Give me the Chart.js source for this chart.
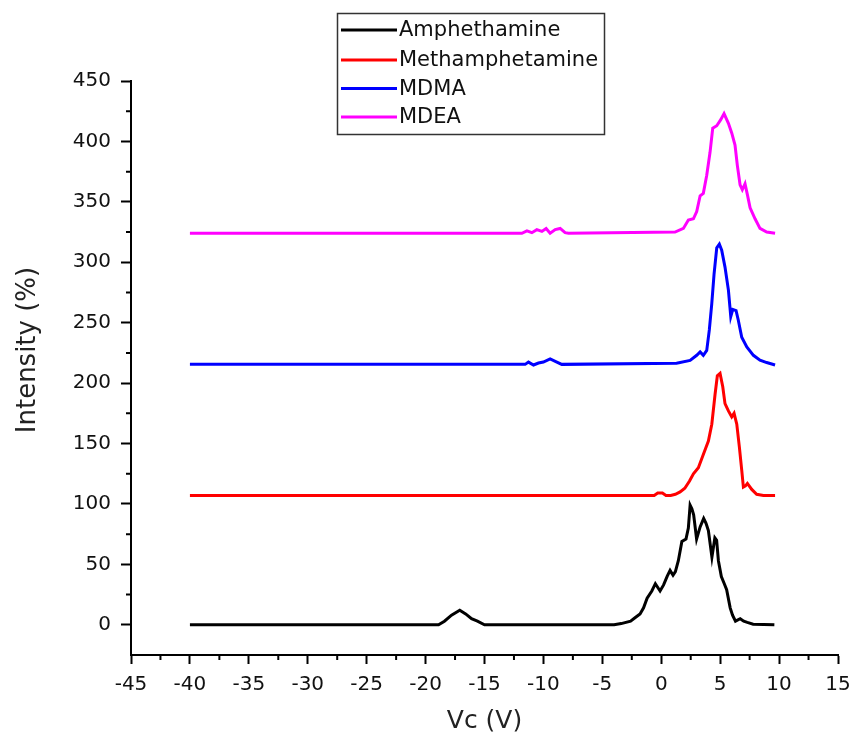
<!DOCTYPE html>
<html>
<head>
<meta charset="utf-8">
<script src="https://cdn.jsdelivr.net/npm/chart.js@4/dist/chart.umd.min.js"></script>
<style>
  html, body { margin: 0; padding: 0; background: #fff; }
  canvas { display: block; }
</style>
</head>
<body>
<canvas id="chart" width="854" height="744"></canvas>
<script>
// Compensation voltage sweep (V) and relative intensity (%) per compound,
// each trace offset vertically so the spectra stack.
const seriesLabels = ['Amphethamine', 'Methamphetamine', 'MDMA', 'MDEA'];
const seriesColors = ['#000000', '#ff0000', '#0000ff', '#ff00ff'];

const amphVc = [-40, -18.9, -18.4, -17.8, -17.1, -16.6, -16.1, -15.6, -15.0, -4.0, -3.4, -2.6, -2.2, -1.8, -1.5, -1.2, -0.8, -0.5, -0.1, 0.2, 0.5, 0.75, 1.0, 1.2, 1.45, 1.75, 2.1, 2.3, 2.45, 2.6, 2.75, 3.0, 3.3, 3.6, 3.8, 4.0, 4.3, 4.55, 4.7, 4.85, 5.1, 5.35, 5.55, 5.85, 6.05, 6.3, 6.7, 7.0, 7.3, 7.8, 9.6];
const amphIntensity = [0, 0, 3, 8, 12, 9, 5, 3, 0, 0, 1, 3, 6, 9, 14, 22, 28, 34, 28, 33, 40, 45, 41, 44, 53, 69, 71, 80, 99, 96, 91, 71, 81, 88, 84, 78, 56, 72, 70, 53, 40, 34, 29, 14, 8, 3, 5, 3, 2, 0.5, 0];

const methVc = [-40, -0.6, -0.3, 0.1, 0.4, 0.8, 1.2, 1.6, 2.0, 2.4, 2.73, 3.15, 3.57, 4.0, 4.29, 4.57, 4.76, 4.99, 5.22, 5.41, 5.7, 5.98, 6.18, 6.41, 6.63, 6.83, 6.97, 7.15, 7.31, 7.68, 8.1, 8.67, 9.66];
const methIntensity = [107, 107, 109, 109, 107, 107, 108, 110, 113, 119, 125, 130, 141, 152, 166, 191, 206, 208, 197, 183, 177, 172, 175, 166, 147, 128, 114, 115, 117, 112, 108, 107, 107];

const mdmaVc = [-40, -11.55, -11.27, -10.84, -10.42, -10.0, -9.43, -8.86, -8.44, 1.3, 2.45, 3.01, 3.3, 3.57, 3.86, 4.08, 4.29, 4.48, 4.71, 4.93, 5.13, 5.41, 5.7, 5.9, 6.07, 6.35, 6.54, 6.83, 7.26, 7.82, 8.38, 8.95, 9.66];
const mdmaIntensity = [215.5, 215.5, 217.4, 215, 216.6, 217.4, 220, 217.4, 215.5, 216.5, 218.8, 223, 225.8, 223, 227, 244, 266, 290, 312, 315, 310, 296, 277, 255, 261, 260, 252, 238, 230, 223, 219, 217, 215];

const mdeaVc = [-40, -11.83, -11.4, -10.98, -10.56, -10.13, -9.77, -9.43, -9.0, -8.58, -8.16, -7.87, 1.17, 1.88, 2.3, 2.73, 3.01, 3.3, 3.57, 3.86, 4.14, 4.37, 4.71, 5.05, 5.33, 5.7, 5.98, 6.26, 6.46, 6.69, 6.88, 7.11, 7.31, 7.54, 7.96, 8.38, 8.95, 9.66];
const mdeaIntensity = [324, 324, 326, 324.5, 327, 325.5, 328, 324, 327, 328, 324.5, 324, 325, 328, 335, 336, 342, 355, 357, 372, 391, 411, 413, 418, 423, 415, 407, 397, 380, 364, 360, 365, 356, 345, 336, 328, 325, 324];

const xTickValues = [-45, -40, -35, -30, -25, -20, -15, -10, -5, 0, 5, 10, 15];
const yTickValues = [0, 50, 100, 150, 200, 250, 300, 350, 400, 450];
const xMinorValues = xTickValues.slice(0, -1).map(v => v + 2.5);
const yMinorValues = [25, 75, 125, 175, 225, 275, 325, 375, 425];

const xTitle = 'Vc (V)';
const yTitle = 'Intensity (%)';

const seriesX = [amphVc, methVc, mdmaVc, mdeaVc];
const seriesY = [amphIntensity, methIntensity, mdmaIntensity, mdeaIntensity];

const FONT = '"DejaVu Sans", "Liberation Sans", Arial, sans-serif';

const datasets = seriesLabels.map((label, i) => ({
  label,
  data: seriesX[i].map((x, k) => ({ x, y: seriesY[i][k] })),
  borderColor: seriesColors[i],
  backgroundColor: seriesColors[i],
  borderWidth: 3,
  pointRadius: 0,
  tension: 0,
  fill: false
}));

// Short minor tick marks between the labelled ones, plus the vertical axis title.
const axisExtras = {
  id: 'axisExtras',
  afterDraw(chart) {
    const { ctx, chartArea, scales } = chart;
    ctx.save();
    ctx.strokeStyle = '#000';
    ctx.lineWidth = 2;
    ctx.beginPath();
    xMinorValues.forEach(v => {
      const px = scales.x.getPixelForValue(v);
      ctx.moveTo(px, chartArea.bottom);
      ctx.lineTo(px, chartArea.bottom + 5);
    });
    yMinorValues.forEach(v => {
      const py = scales.y.getPixelForValue(v);
      ctx.moveTo(chartArea.left, py);
      ctx.lineTo(chartArea.left - 5, py);
    });
    ctx.stroke();

    ctx.translate(28, 350);
    ctx.rotate(-Math.PI / 2);
    ctx.font = '26px ' + FONT;
    ctx.fillStyle = '#222';
    ctx.textAlign = 'center';
    ctx.textBaseline = 'middle';
    ctx.fillText(yTitle, 0, 0);
    ctx.restore();
  }
};

// Boxed legend placed above the plot area.
const boxLegend = {
  id: 'boxLegend',
  afterDraw(chart) {
    const { ctx } = chart;
    const box = { x: 337.5, y: 13.5, w: 267, h: 121 };
    const rows = [30, 60, 88.5, 117];
    ctx.save();
    ctx.strokeStyle = '#333';
    ctx.lineWidth = 1.5;
    ctx.strokeRect(box.x, box.y, box.w, box.h);
    ctx.font = '21px ' + FONT;
    ctx.textBaseline = 'middle';
    ctx.textAlign = 'left';
    chart.data.datasets.forEach((ds, i) => {
      ctx.strokeStyle = ds.borderColor;
      ctx.lineWidth = 3;
      ctx.beginPath();
      ctx.moveTo(341, rows[i]);
      ctx.lineTo(397, rows[i]);
      ctx.stroke();
      ctx.fillStyle = '#111';
      ctx.fillText(ds.label, 399, rows[i] + 1);
    });
    ctx.restore();
  }
};

new Chart(document.getElementById('chart'), {
  type: 'line',
  data: { datasets },
  plugins: [axisExtras, boxLegend],
  options: {
    responsive: false,
    animation: false,
    layout: { padding: { top: 81, right: 16, left: 0, bottom: 0 } },
    plugins: {
      legend: { display: false },
      tooltip: { enabled: false }
    },
    scales: {
      x: {
        type: 'linear',
        min: -45,
        max: 15,
        afterFit(scale) {
          scale.height = 89;
          scale.paddingLeft = 0;
          scale.paddingRight = 0;
        },
        afterBuildTicks(scale) { scale.ticks = xTickValues.map(v => ({ value: v })); },
        border: { display: true, color: '#000', width: 2 },
        grid: { drawOnChartArea: false, drawTicks: true, tickLength: 9, tickWidth: 2, tickColor: '#000' },
        ticks: { color: '#111', padding: 9, font: { family: FONT, size: 20 }, maxRotation: 0, autoSkip: false },
        title: { display: true, text: xTitle, color: '#222', font: { family: FONT, size: 25 }, padding: { top: 4, bottom: 8 } }
      },
      y: {
        type: 'linear',
        min: -25,
        max: 450,
        afterFit(scale) {
          scale.width = 131;
          scale.paddingTop = 0;
          scale.paddingBottom = 0;
        },
        afterBuildTicks(scale) { scale.ticks = yTickValues.map(v => ({ value: v })); },
        border: { display: true, color: '#000', width: 2 },
        grid: { drawOnChartArea: false, drawTicks: true, tickLength: 10, tickWidth: 2, tickColor: '#000' },
        ticks: { color: '#111', padding: 10, font: { family: FONT, size: 20 }, autoSkip: false },
        title: { display: false }
      }
    }
  }
});
</script>
</body>
</html>
